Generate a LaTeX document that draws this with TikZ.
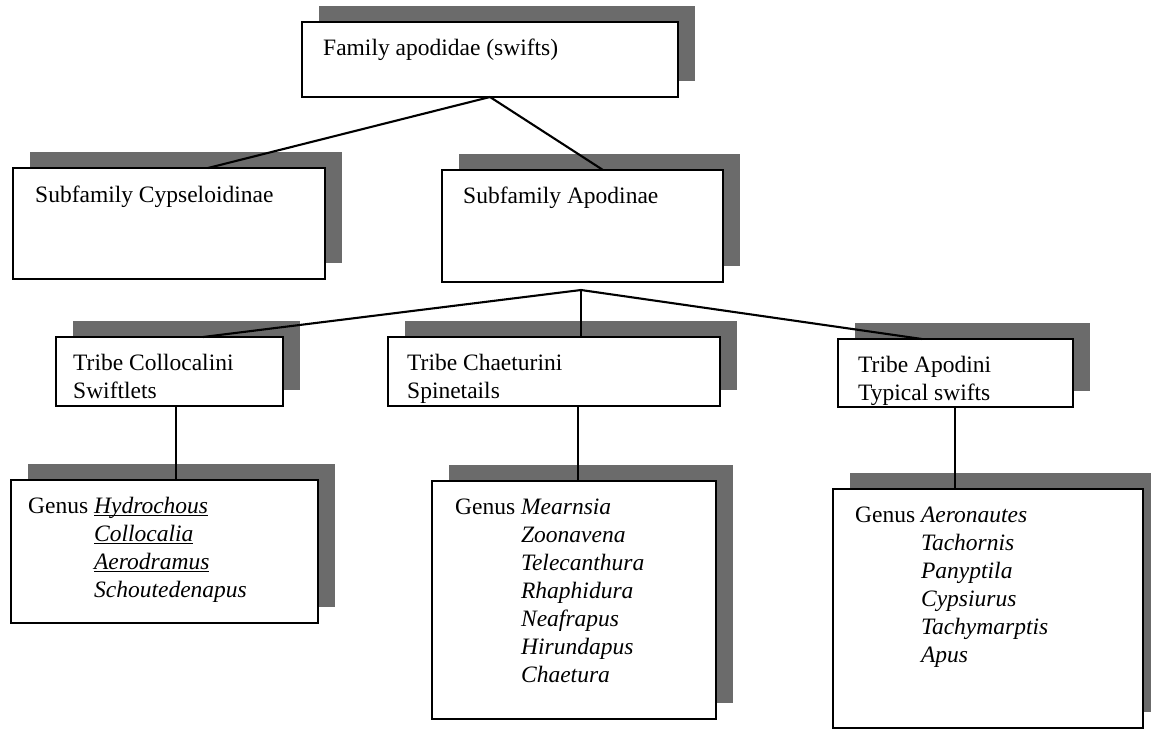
\documentclass[tikz,border=0pt]{standalone}
\usepackage{fontspec}
\setmainfont{Liberation Serif}
\usetikzlibrary{shadows,calc}
\newcommand\myul[1]{\setbox0\hbox{#1}\rlap{\rule[-3.2pt]{\wd0}{1.2pt}}\box0}
\begin{document}
\begin{tikzpicture}[x=1pt,y=-1pt,
  boxst/.style={draw=black, line width=2.1pt, fill=white, rectangle, inner sep=0pt, outer sep=0pt, anchor=north west,
    drop shadow={shadow xshift=17pt, shadow yshift=16pt, fill=black!58, opacity=1}},
  txt/.style={anchor=base west, inner sep=0pt, font=\fontsize{23.5}{28}\selectfont},
  conn/.style={draw=black, line width=2.1pt}]
\useasboundingbox[fill=white] (0,0) rectangle (1151,729);
% boxes
\node[boxst, minimum width=376pt, minimum height=75pt] (fam) at (302,22) {};
\node[boxst, minimum width=312pt, minimum height=111pt] (cyp) at (13,168) {};
\node[boxst, minimum width=281pt, minimum height=112pt] (apo) at (442,170) {};
\node[boxst, minimum width=227pt, minimum height=69pt] (col) at (56,337) {};
\node[boxst, minimum width=332pt, minimum height=69pt] (cha) at (388,337) {};
\node[boxst, minimum width=235pt, minimum height=68pt] (apd) at (838,339) {};
\node[boxst, minimum width=307pt, minimum height=143pt] (g1) at (11,480) {};
\node[boxst, minimum width=284pt, minimum height=238pt] (g2) at (432,481) {};
\node[boxst, minimum width=310pt, minimum height=239pt] (g3) at (833,489) {};
% texts
\node[txt] (famt) at (323,55) {Family apodidae (swifts)};
\node[txt] (cypt) at (35,202) {Subfamily Cypseloidinae};
\node[txt] (apot) at (463,203) {Subfamily Apodinae};
\node[txt] (colt) at (73,370) {\begin{tabular}[t]{@{}l@{}}Tribe Collocalini\\Swiftlets\end{tabular}};
\node[txt] (chat) at (407,370) {\begin{tabular}[t]{@{}l@{}}Tribe Chaeturini\\Spinetails\end{tabular}};
\node[txt] (apdt) at (858,372) {\begin{tabular}[t]{@{}l@{}}Tribe Apodini\\Typical swifts\end{tabular}};
\node[txt] (g1t) at (28,513) {\begin{tabular}[t]{@{}l@{\ }l@{}}Genus & \myul{\textit{Hydrochous}}\\
 & \myul{\textit{Collocalia}}\\ & \myul{\textit{Aerodramus}}\\ & \textit{Schoutedenapus}\end{tabular}};
\node[txt] (g2t) at (455,514) {\begin{tabular}[t]{@{}l@{\ }l@{}}Genus & \textit{Mearnsia}\\
 & \textit{Zoonavena}\\ & \textit{Telecanthura}\\ & \textit{Rhaphidura}\\ & \textit{Neafrapus}\\ & \textit{Hirundapus}\\ & \textit{Chaetura}\end{tabular}};
\node[txt] (g3t) at (855,522) {\begin{tabular}[t]{@{}l@{\ }l@{}}Genus & \textit{Aeronautes}\\
 & \textit{Tachornis}\\ & \textit{Panyptila}\\ & \textit{Cypsiurus}\\ & \textit{Tachymarptis}\\ & \textit{Apus}\end{tabular}};
% connectors
\coordinate (famapex) at ($(fam.south west)+(188,0)$);
\coordinate (apoapex) at (581,290);
\draw[conn] (famapex) -- ($(cyp.north west)+(195,0)$);
\draw[conn] (famapex) -- ($(apo.north west)+(161,0)$);
\draw[conn] (apoapex) -- ($(col.north west)+(147,0)$);
\draw[conn] (apoapex) -- ($(cha.north west)+(193,0)$);
\draw[conn] (apoapex) -- ($(apd.north west)+(84,0)$);
\draw[conn] ($(col.south west)+(120,0)$) -- ($(g1.north west)+(165,0)$);
\draw[conn] ($(cha.south west)+(190,0)$) -- ($(g2.north west)+(146,0)$);
\draw[conn] ($(apd.south west)+(117,0)$) -- ($(g3.north west)+(122,0)$);
\end{tikzpicture}
\end{document}
